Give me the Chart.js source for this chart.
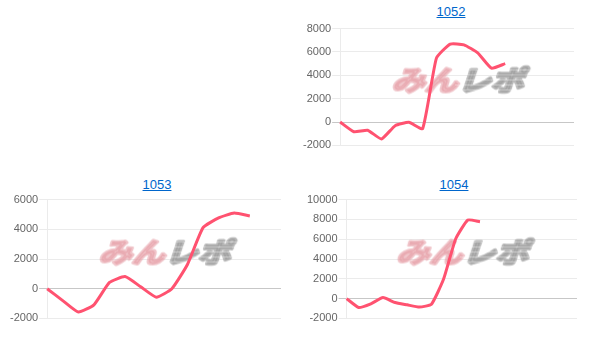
<!DOCTYPE html>
<html lang="ja">
<head>
<meta charset="UTF-8">
<title>1052 / 1053 / 1054</title>
<script src="https://cdn.jsdelivr.net/npm/chart.js"></script>
<style>
  body { margin: 0; width: 606px; height: 351px; background: #fff; position: relative; overflow: hidden;
         font-family: "Liberation Sans", Arial, sans-serif; }
  .title { position: absolute; width: 120px; text-align: center; font-size: 13px; line-height: 15px; }
  .title a { color: #0066cc; text-decoration: underline; }
  .box { position: absolute; }
</style>
</head>
<body>
<div class="title" style="left:391px; top:4px;"><a href="#">1052</a></div>
<div class="box" style="left:302px; top:21px; width:272px; height:132px;"><canvas id="c1052"></canvas></div>

<div class="title" style="left:97px; top:177px;"><a href="#">1053</a></div>
<div class="box" style="left:9px; top:192px; width:272px; height:134px;"><canvas id="c1053"></canvas></div>

<div class="title" style="left:394px; top:177px;"><a href="#">1054</a></div>
<div class="box" style="left:306px; top:192px; width:271px; height:134px;"><canvas id="c1054"></canvas></div>

<script>
// x categories (hidden on the chart)
const labels1052 = ['1','2','3','4','5','6','7','8','9','10','11','12','13','14','15','16','17','18'];
const labels1053 = ['1','2','3','4','5','6','7','8','9','10','11','12','13','14','15','16'];
const labels1054 = ['1','2','3','4','5','6','7','8','9','10','11','12','13','14','15','16','17','18','19','20'];

// series values
const values1052 = [0, -830, -700, -1450, -310, -20, -560, 5470, 6670, 6610, 5920, 4610, 5000];
const values1053 = [0, -800, -1570, -1090, 420, 820, 130, -570, 0, 1630, 4110, 4770, 5100, 4900];
const values1054 = [0, -900, -530, 100, -400, -630, -860, -560, 1970, 6040, 7940, 7770];

// y tick labels
const ticks1052 = [-2000, 0, 2000, 4000, 6000, 8000];
const ticks1053 = [-2000, 0, 2000, 4000, 6000];
const ticks1054 = [-2000, 0, 2000, 4000, 6000, 8000, 10000];

const LINE = 'rgb(255, 82, 112)';

// "みんレポ" watermark drawn behind the line
const watermark = {
  id: 'watermark',
  beforeDatasetsDraw(chart) {
    const a = chart.chartArea;
    const cx = (a.left + a.right) / 2 + 9;
    const cy = (a.top + a.bottom) / 2 - 8;
    const w = 146, h = 27;
    const off = document.createElement('canvas');
    off.width = w + 20; off.height = h + 10;
    const o = off.getContext('2d');
    o.font = 'bold 30px "Noto Sans CJK JP"';
    o.textBaseline = 'middle';
    o.lineJoin = 'round';
    const t1 = 'みん', t2 = 'レポ';
    const w1 = o.measureText(t1).width, w2 = o.measureText(t2).width;
    const sx = (w - 14) / (w1 + w2);
    o.save();
    o.translate(12, off.height / 2 + 1);
    o.transform(sx, 0, -0.3, 0.92, 0, 0);
    o.lineWidth = 3.5;
    o.fillStyle = o.strokeStyle = 'rgba(228, 150, 158, 0.55)';
    o.fillText(t1, 0, 0);
    o.strokeText(t1, 0, 0);
    o.fillStyle = o.strokeStyle = 'rgba(155, 155, 155, 0.7)';
    o.fillText(t2, w1, 0);
    o.strokeText(t2, w1, 0);
    o.restore();
    o.globalCompositeOperation = 'destination-out';
    o.fillStyle = 'rgba(0,0,0,0.4)';
    const gx = 12 + w1 * sx;
    for (let y = 4; y < off.height; y += 5) o.fillRect(gx - 6, y, off.width, 1);
    chart.ctx.drawImage(off, cx - off.width / 2, cy - off.height / 2);
  }
};

function makeChart(id, labels, values, ticks) {
  new Chart(document.getElementById(id), {
    type: 'line',
    data: {
      labels: labels,
      datasets: [{
        data: values,
        borderColor: LINE,
        borderWidth: 3,
        pointRadius: 0,
        fill: false,
        tension: 0.15
      }]
    },
    options: {
      responsive: true,
      maintainAspectRatio: false,
      animation: false,
      layout: { padding: 0 },
      plugins: { legend: { display: false }, tooltip: { enabled: false } },
      scales: {
        x: { display: false },
        y: {
          min: ticks[0],
          max: ticks[ticks.length - 1],
          afterBuildTicks: axis => { axis.ticks = ticks.map(v => ({ value: v })); },
          ticks: {
            color: '#666',
            padding: 1,
            font: { size: 11, family: '"Liberation Sans", Arial, sans-serif' },
            callback: v => String(v)
          },
          grid: {
            tickLength: 8,
            color: c => (c.tick && c.tick.value === 0) ? 'rgba(0,0,0,0.22)' : 'rgba(0,0,0,0.08)'
          },
          border: { color: 'rgba(0,0,0,0.08)' }
        }
      }
    },
    plugins: [watermark]
  });
}

makeChart('c1052', labels1052, values1052, ticks1052);
makeChart('c1053', labels1053, values1053, ticks1053);
makeChart('c1054', labels1054, values1054, ticks1054);
</script>
</body>
</html>
